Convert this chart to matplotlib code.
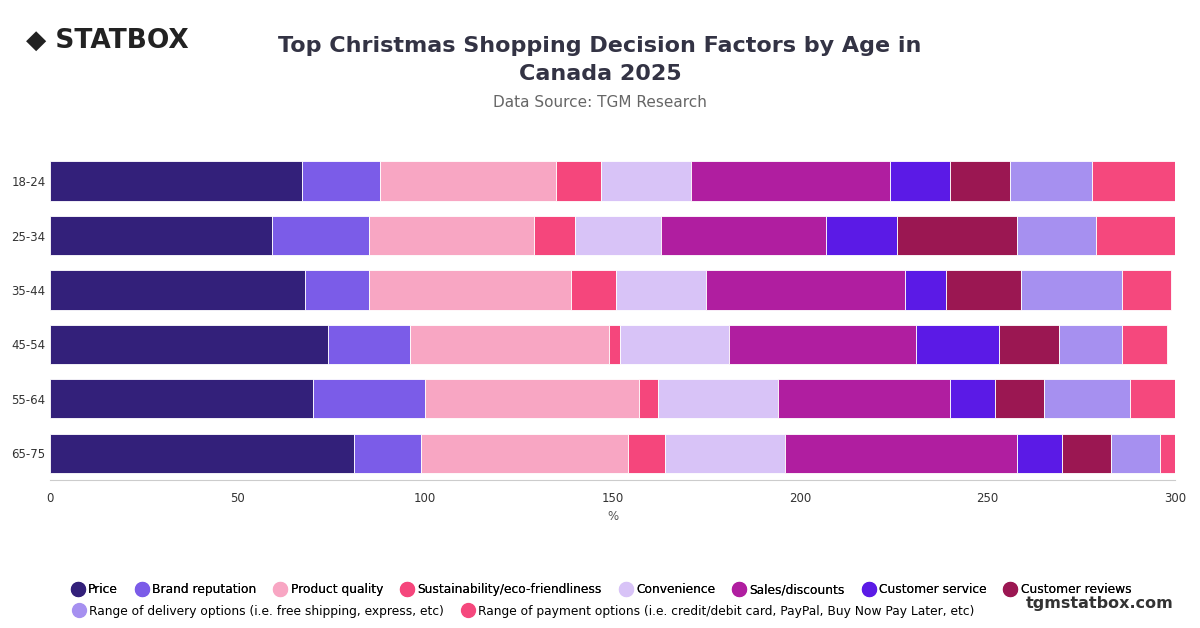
import matplotlib
matplotlib.use("Agg")
import matplotlib.pyplot as plt
from matplotlib.lines import Line2D
import numpy as np

ages = ["18-24", "25-34", "35-44", "45-54", "55-64", "65-75"]
factors = ["Price", "Brand reputation", "Product quality", "Sustainability/eco-friendliness",
           "Convenience", "Sales/discounts", "Customer service", "Customer reviews",
           "Range of delivery options (i.e. free shipping, express, etc)",
           "Range of payment options (i.e. credit/debit card, PayPal, Buy Now Pay Later, etc)"]
values = [
    [67, 21, 47, 12, 24, 53, 16, 16, 22, 22],
    [59, 26, 44, 11, 23, 44, 19, 32, 21, 21],
    [68, 17, 54, 12, 24, 53, 11, 20, 27, 13],
    [74, 22, 53, 3, 29, 50, 22, 16, 17, 12],
    [70, 30, 57, 5, 32, 46, 12, 13, 23, 12],
    [81, 18, 55, 10, 32, 62, 12, 13, 13, 4],
]
colors = ["#33207a", "#7b5ce8", "#f8a6c3", "#f5467c", "#d8c3f7", "#b01ea0",
          "#5b1ae6", "#9b1752", "#a690f0", "#f5487d"]

fig = plt.figure(figsize=(12, 6.28), dpi=100)
ax = fig.add_axes([0.042, 0.235, 0.937, 0.52])
data = np.array(values)
y = np.arange(len(ages))
left = np.zeros(len(ages))
for j in range(len(factors)):
    ax.barh(y, data[:, j], left=left, color=colors[j], height=0.72,
            edgecolor="white", linewidth=0.6)
    left += data[:, j]
ax.set_yticks(y)
ax.set_yticklabels(ages)
ax.set_ylim(5.5, -0.5)
ax.set_xlim(0, 300)
ax.set_xticks([0, 50, 100, 150, 200, 250, 300])
ax.tick_params(axis="both", length=0, labelsize=8.5, colors="#333333")
ax.tick_params(axis="x", pad=8)
ax.set_xlabel("%", fontsize=8.5, color="#555555")
for s in ["top", "right", "left"]:
    ax.spines[s].set_visible(False)
ax.spines["bottom"].set_color("#cccccc")

fig.text(0.5, 0.905, "Top Christmas Shopping Decision Factors by Age in\nCanada 2025",
         ha="center", va="center", fontsize=16, fontweight="bold", color="#333344",
         linespacing=1.5)
fig.text(0.5, 0.83, "Data Source: TGM Research", ha="center", fontsize=11, color="#666666")
fig.text(0.022, 0.935, "◆ STATBOX", fontsize=19, fontweight="bold", color="#222222", va="center")
fig.text(0.978, 0.032, "tgmstatbox.com", ha="right", fontsize=11.5, fontweight="bold", color="#333333")

handles = [Line2D([], [], marker="o", ls="", markersize=10, color=c) for c in colors]
leg1 = fig.legend(handles[:8], factors[:8], loc="center", bbox_to_anchor=(0.5, 0.061),
                  ncol=8, frameon=False, fontsize=8.8, handletextpad=0.1, columnspacing=1.2,
                  handlelength=1.5)
fig.add_artist(leg1)
fig.legend(handles[8:], factors[8:], loc="center", bbox_to_anchor=(0.435, 0.027),
           ncol=2, frameon=False, fontsize=8.8, handletextpad=0.1, columnspacing=1.2,
           handlelength=1.5)
fig.savefig("out.png", dpi=100)
